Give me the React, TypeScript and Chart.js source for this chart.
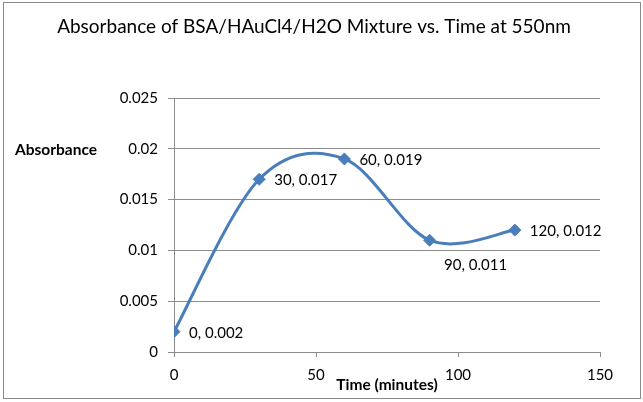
import { useEffect, useRef } from 'react';
import { Chart, registerables } from 'chart.js';

Chart.register(...registerables);

const chartTitle = 'Absorbance of BSA/HAuCl4/H2O Mixture vs. Time at 550nm';
const xAxisTitle = 'Time (minutes)';
const yAxisTitle = 'Absorbance';
const timeValues = [0, 30, 60, 90, 120];
const absorbanceValues = [0.002, 0.017, 0.019, 0.011, 0.012];
const pointLabels = ['0, 0.002', '30, 0.017', '60, 0.019', '90, 0.011', '120, 0.012'];
const yTickLabels = ['0', '0.005', '0.01', '0.015', '0.02', '0.025'];
const xTickLabels = ['0', '50', '100', '150'];

const FONT = 'Lato, "Open Sans", sans-serif';
const BLUE = '#4A7EBB';
const GRAY = '#8c8c8c';

// Excel-style smoothing: Catmull-Rom control points (1/6 of neighbour chord)
const smoothPlugin = {
  id: 'excelSmooth',
  beforeDatasetDraw(chart: any, args: any) {
    const meta = chart.getDatasetMeta(args.index);
    const line = meta.dataset;
    const pts = meta.data;
    if (!line || !pts.length) return;
    if (line.updateControlPoints) line.updateControlPoints(chart.chartArea, meta.indexAxis);
    for (let i = 0; i < pts.length; i++) {
      const p = pts[i];
      const prev = pts[i - 1] || p;
      const next = pts[i + 1] || p;
      const dx = (next.x - prev.x) / 6;
      const dy = (next.y - prev.y) / 6;
      p.cp1x = p.x - dx;
      p.cp1y = p.y - dy;
      p.cp2x = p.x + dx;
      p.cp2y = p.y + dy;
    }
    line._path = undefined;
  },
};

const decorPlugin = {
  id: 'decor',
  beforeDraw(chart: any) {
    const ctx = chart.ctx;
    ctx.save();
    ctx.fillStyle = '#ffffff';
    ctx.fillRect(0, 0, chart.width, chart.height);
    ctx.strokeStyle = '#8a8a8a';
    ctx.lineWidth = 1;
    ctx.strokeRect(3.5, 2.5, 637, 396);
    ctx.restore();
  },
  afterDraw(chart: any) {
    const ctx = chart.ctx;
    const area = chart.chartArea;
    const xs = chart.scales.x;
    const ys = chart.scales.y;
    ctx.save();
    ctx.fillStyle = '#000000';
    ctx.textBaseline = 'middle';
    ctx.font = `19px ${FONT}`;
    ctx.textAlign = 'center';
    ctx.fillText(chartTitle, 314, 27);
    ctx.font = `bold 15.5px ${FONT}`;
    ctx.textAlign = 'left';
    ctx.fillText(yAxisTitle, 15, 150);
    ctx.textAlign = 'center';
    ctx.fillText(xAxisTitle, (area.left + area.right) / 2, 385);
    ctx.font = `15px ${FONT}`;
    ctx.textAlign = 'left';
    timeValues.forEach((t, i) => {
      const px = xs.getPixelForValue(t);
      const py = ys.getPixelForValue(absorbanceValues[i]);
      if (i === 3) {
        ctx.textAlign = 'center';
        ctx.fillText(pointLabels[i], px + 46, py + 25);
        ctx.textAlign = 'left';
      } else {
        ctx.fillText(pointLabels[i], px + 15, py + 1);
      }
    });
    ctx.restore();
  },
};

export default function App() {
  const ref = useRef<HTMLCanvasElement>(null);
  useEffect(() => {
    document.body.style.margin = '0';
    const canvas = ref.current!;
    const chart = new Chart(canvas, {
      type: 'line',
      data: {
        datasets: [
          {
            data: timeValues.map((t, i) => ({ x: t, y: absorbanceValues[i] })),
            borderColor: BLUE,
            backgroundColor: BLUE,
            borderWidth: 3,
            tension: 0.4,
            pointStyle: 'rectRot',
            pointRadius: 6,
            pointHoverRadius: 6,
            pointBackgroundColor: BLUE,
            pointBorderColor: BLUE,
            pointBorderWidth: 1,
            fill: false,
          },
        ],
      },
      options: {
        responsive: false,
        animation: false,
        devicePixelRatio: 1,
        layout: { padding: { left: 0, top: 98, right: 43, bottom: 0 } },
        plugins: { legend: { display: false }, tooltip: { enabled: false }, title: { display: false } },
        scales: {
          x: {
            type: 'linear',
            min: 0,
            max: 150,
            afterFit: (s: any) => {
              s.height = 50;
            },
            afterBuildTicks: (s: any) => {
              s.ticks = xTickLabels.map((l) => ({ value: Number(l) }));
            },
            ticks: {
              callback: (_v: any, i: number) => xTickLabels[i],
              font: { family: FONT, size: 15 },
              color: '#000000',
              padding: 9,
              maxRotation: 0,
            },
            grid: { drawOnChartArea: false, drawTicks: true, tickLength: 5, color: GRAY },
            border: { color: GRAY, width: 1 },
          },
          y: {
            type: 'linear',
            min: 0,
            max: 0.025,
            afterFit: (s: any) => {
              s.width = 174;
            },
            afterBuildTicks: (s: any) => {
              s.ticks = yTickLabels.map((l) => ({ value: Number(l) }));
            },
            ticks: {
              callback: (_v: any, i: number) => yTickLabels[i],
              font: { family: FONT, size: 15 },
              color: '#000000',
              padding: 10,
            },
            grid: { drawTicks: true, tickLength: 6, color: GRAY },
            border: { color: GRAY, width: 1 },
          },
        },
      },
      plugins: [smoothPlugin, decorPlugin],
    });
    return () => chart.destroy();
  }, []);
  return <canvas ref={ref} width={643} height={402} style={{ display: 'block', width: 643, height: 402 }} />;
}
